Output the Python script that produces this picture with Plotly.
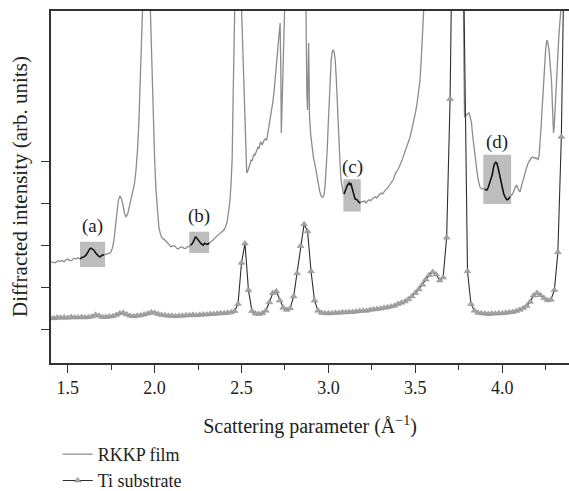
import plotly.graph_objects as go

# RKKP film spectrum: scattering parameter (1/Å) and intensity (arb. units)
rkkp_q = [1.404, 1.427, 1.445, 1.456, 1.468, 1.479, 1.490, 1.502, 1.513, 1.525, 1.536, 1.548, 1.559, 1.571,
          1.582, 1.594, 1.605, 1.617, 1.626, 1.634, 1.643, 1.651, 1.660, 1.669, 1.678, 1.686, 1.698, 1.709,
          1.720, 1.732, 1.741, 1.749, 1.758, 1.766, 1.775, 1.784, 1.792, 1.801, 1.810, 1.818, 1.827, 1.836,
          1.845, 1.853, 1.864, 1.876, 1.885, 1.893, 1.902, 1.910, 1.916, 1.922, 1.930, 1.945, 1.962, 1.972,
          1.979, 1.985, 1.991, 2.000, 2.008, 2.016, 2.025, 2.034, 2.043, 2.060, 2.070, 2.077, 2.086, 2.095,
          2.106, 2.118, 2.126, 2.135, 2.147, 2.158, 2.170, 2.181, 2.190, 2.198, 2.207, 2.216, 2.227, 2.234,
          2.239, 2.247, 2.255, 2.266, 2.279, 2.287, 2.296, 2.305, 2.314, 2.325, 2.337, 2.348, 2.359, 2.370,
          2.382, 2.390, 2.399, 2.408, 2.417, 2.425, 2.434, 2.440, 2.446, 2.452, 2.457, 2.469, 2.486, 2.501,
          2.508, 2.514, 2.522, 2.530, 2.537, 2.543, 2.549, 2.555, 2.561, 2.566, 2.572, 2.578, 2.584, 2.589,
          2.595, 2.601, 2.607, 2.613, 2.618, 2.624, 2.630, 2.637, 2.645, 2.652, 2.659, 2.667, 2.674, 2.681,
          2.688, 2.694, 2.699, 2.705, 2.711, 2.716, 2.722, 2.726, 2.729, 2.733, 2.739, 2.743, 2.747, 2.760,
          2.850, 2.871, 2.876, 2.880, 2.884, 2.886, 2.889, 2.891, 2.898, 2.906, 2.914, 2.923, 2.932, 2.941,
          2.950, 2.958, 2.964, 2.970, 2.976, 2.981, 2.987, 2.993, 2.999, 3.004, 3.010, 3.016, 3.022, 3.027,
          3.033, 3.039, 3.045, 3.050, 3.056, 3.062, 3.068, 3.073, 3.079, 3.085, 3.090, 3.096, 3.102, 3.107,
          3.113, 3.119, 3.124, 3.130, 3.136, 3.142, 3.148, 3.153, 3.159, 3.165, 3.174, 3.182, 3.190, 3.199,
          3.208, 3.216, 3.225, 3.234, 3.242, 3.251, 3.260, 3.269, 3.277, 3.286, 3.295, 3.303, 3.312, 3.320,
          3.329, 3.337, 3.346, 3.355, 3.363, 3.372, 3.380, 3.389, 3.398, 3.406, 3.415, 3.424, 3.432, 3.441,
          3.450, 3.458, 3.467, 3.475, 3.484, 3.493, 3.501, 3.510, 3.518, 3.527, 3.533, 3.539, 3.547, 3.570,
          3.760, 3.777, 3.780, 3.783, 3.790, 3.797, 3.803, 3.809, 3.816, 3.823, 3.830, 3.838, 3.846, 3.855,
          3.863, 3.872, 3.880, 3.889, 3.900, 3.911, 3.918, 3.924, 3.933, 3.942, 3.948, 3.953, 3.961, 3.968,
          3.975, 3.981, 3.990, 3.999, 4.008, 4.016, 4.022, 4.027, 4.036, 4.044, 4.053, 4.062, 4.072, 4.083,
          4.092, 4.102, 4.110, 4.119, 4.130, 4.141, 4.150, 4.160, 4.168, 4.177, 4.186, 4.194, 4.200, 4.206,
          4.212, 4.217, 4.223, 4.229, 4.236, 4.243, 4.250, 4.256, 4.262, 4.269, 4.277, 4.284, 4.290, 4.295,
          4.299, 4.303, 4.309, 4.315, 4.320, 4.326, 4.338, 4.349, 4.384]
rkkp_i = [1.62, 1.60, 1.65, 1.63, 1.66, 1.62, 1.67, 1.69, 1.65, 1.66, 1.71, 1.69, 1.72, 1.69,
          1.73, 1.74, 1.78, 1.86, 1.93, 1.95, 1.92, 1.90, 1.84, 1.79, 1.76, 1.74, 1.78, 1.79,
          1.80, 1.81, 1.83, 1.86, 1.96, 2.14, 2.50, 2.86, 3.10, 3.19, 3.12, 2.98, 2.78, 2.69,
          2.76, 2.90, 3.10, 3.29, 3.50, 3.81, 4.30, 5.00, 5.90, 6.90, 8.20, 9.50, 9.60, 8.20,
          6.90, 6.00, 5.00, 4.10, 3.33, 2.80, 2.43, 2.28, 2.19, 2.14, 2.10, 2.05, 2.03, 1.98,
          2.01, 2.00, 1.95, 1.93, 1.97, 1.98, 1.94, 1.95, 1.99, 1.98, 2.02, 2.05, 2.14, 2.21,
          2.21, 2.16, 2.12, 2.06, 2.02, 2.06, 2.05, 2.04, 2.07, 2.10, 2.14, 2.20, 2.24, 2.29,
          2.33, 2.36, 2.38, 2.46, 2.57, 2.80, 3.10, 3.50, 4.05, 5.60, 7.57, 9.50, 9.50, 7.57,
          6.40, 5.48, 4.50, 3.74, 3.80, 3.86, 3.95, 4.05, 4.02, 4.12, 4.18, 4.17, 4.22, 4.29,
          4.36, 4.32, 4.45, 4.48, 4.40, 4.47, 4.52, 4.55, 4.52, 4.70, 4.88, 5.05, 5.24, 5.45,
          5.71, 6.00, 6.31, 6.52, 6.74, 7.00, 7.31, 6.20, 4.69, 5.30, 6.19, 6.90, 7.57, 9.50,
          9.50, 7.57, 5.60, 5.24, 6.30, 6.83, 6.00, 5.12, 4.65, 4.29, 4.10, 3.93, 3.68, 3.45,
          3.30, 3.19, 3.16, 3.17, 3.25, 3.45, 3.80, 4.29, 4.90, 5.48, 6.00, 6.43, 6.62, 6.67,
          6.62, 6.43, 6.00, 5.48, 4.85, 4.29, 3.85, 3.57, 3.38, 3.26, 3.24, 3.29, 3.37, 3.43,
          3.48, 3.50, 3.46, 3.48, 3.38, 3.26, 3.18, 3.12, 3.11, 3.10, 3.05, 3.02, 3.06, 3.05,
          3.08, 3.02, 3.07, 3.10, 3.08, 3.12, 3.15, 3.17, 3.14, 3.19, 3.23, 3.26, 3.24, 3.29,
          3.34, 3.36, 3.42, 3.48, 3.52, 3.57, 3.66, 3.76, 3.80, 3.86, 3.96, 4.05, 4.14, 4.24,
          4.33, 4.45, 4.56, 4.69, 4.84, 5.00, 5.18, 5.40, 5.64, 5.95, 6.35, 6.79, 7.57, 9.50,
          9.50, 7.57, 6.20, 5.07, 5.10, 5.12, 5.16, 5.17, 5.06, 4.93, 4.62, 4.29, 4.00, 3.76,
          3.55, 3.40, 3.37, 3.36, 3.35, 3.33, 3.38, 3.45, 3.58, 3.69, 3.83, 3.93, 3.99, 3.98,
          3.88, 3.76, 3.55, 3.38, 3.25, 3.17, 3.12, 3.10, 3.12, 3.17, 3.22, 3.26, 3.38, 3.45,
          3.35, 3.29, 3.42, 3.57, 3.72, 3.88, 3.98, 4.05, 4.10, 4.12, 4.09, 4.10, 4.08, 4.05,
          4.15, 4.40, 4.80, 5.24, 5.80, 6.31, 6.70, 6.90, 6.85, 6.67, 6.30, 5.88, 5.20, 4.69,
          4.85, 5.12, 5.60, 6.07, 6.55, 7.02, 7.67, 9.50, 9.50]

# Ti substrate spectrum
ti_q = [1.40, 1.42, 1.44, 1.46, 1.48, 1.50, 1.52, 1.54, 1.56, 1.58, 1.60, 1.62, 1.64, 1.66, 1.68, 1.70,
        1.72, 1.74, 1.76, 1.78, 1.80, 1.82, 1.84, 1.86, 1.88, 1.90, 1.92, 1.94, 1.96, 1.98, 2.00, 2.02,
        2.04, 2.06, 2.08, 2.10, 2.12, 2.14, 2.16, 2.18, 2.20, 2.22, 2.24, 2.26, 2.28, 2.30, 2.32, 2.34,
        2.36, 2.38, 2.40, 2.42, 2.44, 2.46, 2.48, 2.50, 2.52, 2.54, 2.56, 2.58, 2.60, 2.62, 2.64, 2.66,
        2.68, 2.70, 2.72, 2.74, 2.76, 2.78, 2.80, 2.82, 2.84, 2.86, 2.88, 2.90, 2.92, 2.94, 2.96, 2.98,
        3.00, 3.02, 3.04, 3.06, 3.08, 3.10, 3.12, 3.14, 3.16, 3.18, 3.20, 3.22, 3.24, 3.26, 3.28, 3.30,
        3.32, 3.34, 3.36, 3.38, 3.40, 3.42, 3.44, 3.46, 3.48, 3.50, 3.52, 3.54, 3.56, 3.58, 3.60, 3.62,
        3.64, 3.66, 3.68, 3.70, 3.72, 3.74, 3.76, 3.78, 3.80, 3.82, 3.84, 3.86, 3.88, 3.90, 3.92, 3.94,
        3.96, 3.98, 4.00, 4.02, 4.04, 4.06, 4.08, 4.10, 4.12, 4.14, 4.16, 4.18, 4.20, 4.22, 4.24, 4.26,
        4.28, 4.30, 4.32, 4.34, 4.36, 4.38]
ti_i = [0.29, 0.28, 0.30, 0.29, 0.30, 0.29, 0.31, 0.30, 0.30, 0.31, 0.30, 0.31, 0.32, 0.36, 0.34, 0.31,
        0.31, 0.32, 0.33, 0.36, 0.40, 0.41, 0.37, 0.34, 0.33, 0.34, 0.35, 0.37, 0.39, 0.42, 0.41, 0.38,
        0.36, 0.35, 0.34, 0.34, 0.33, 0.34, 0.34, 0.35, 0.35, 0.36, 0.35, 0.36, 0.37, 0.37, 0.38, 0.38,
        0.39, 0.40, 0.40, 0.41, 0.42, 0.45, 0.62, 1.60, 2.06, 0.95, 0.45, 0.39, 0.38, 0.40, 0.46, 0.66,
        0.88, 0.92, 0.70, 0.53, 0.48, 0.52, 0.80, 1.35, 2.00, 2.52, 2.35, 1.40, 0.70, 0.46, 0.41, 0.40,
        0.40, 0.40, 0.41, 0.41, 0.42, 0.42, 0.43, 0.43, 0.44, 0.45, 0.46, 0.46, 0.48, 0.49, 0.50, 0.51,
        0.53, 0.54, 0.56, 0.58, 0.62, 0.65, 0.68, 0.73, 0.80, 0.88, 0.97, 1.08, 1.20, 1.31, 1.38, 1.32,
        1.18, 1.25, 2.20, 5.50, 12.0, 14.0, 12.5, 7.80, 1.40, 0.62, 0.46, 0.41, 0.40, 0.39, 0.38, 0.39,
        0.39, 0.40, 0.40, 0.41, 0.42, 0.43, 0.45, 0.48, 0.52, 0.57, 0.67, 0.82, 0.88, 0.83, 0.76, 0.71,
        0.72, 0.95, 1.85, 4.60, 10.0, 14.0]

# Highlighted regions (a)-(d): q range and intensity range
box_labels = ["(a)", "(b)", "(c)", "(d)"]
box_q0 = [1.571, 2.199, 3.086, 3.891]
box_q1 = [1.715, 2.314, 3.186, 4.051]
box_i0 = [1.50, 1.83, 2.82, 3.00]
box_i1 = [2.10, 2.34, 3.59, 4.17]
label_i = [2.48, 2.71, 3.89, 4.48]

x_ticks = [1.5, 2.0, 2.5, 3.0, 3.5, 4.0]
y_ticks = [0, 1, 2, 3, 4]

SERIF = "Liberation Serif"
AXIS = "#333333"

fig = go.Figure()

fig.add_trace(go.Scatter(
    x=rkkp_q, y=rkkp_i, mode="lines", name="RKKP film",
    line=dict(color="#8c8c8c", width=1.3),
))
fig.add_trace(go.Scatter(
    x=ti_q, y=ti_i, mode="lines+markers", name="Ti substrate",
    line=dict(color="#2e2e2e", width=1.1),
    marker=dict(symbol="triangle-up", size=6, color="#a4a4a4",
                line=dict(width=0.5, color="#8a8a8a")),
))

# shaded insets with the film trace redrawn in black inside them
for lab, q0, q1, i0, i1, li in zip(box_labels, box_q0, box_q1, box_i0, box_i1, label_i):
    fig.add_shape(type="rect", xref="x", yref="y", x0=q0, x1=q1, y0=i0, y1=i1,
                  fillcolor="#bdbdbd", line=dict(width=0), layer="below")
    seg = [(q, v) for q, v in zip(rkkp_q, rkkp_i) if q0 <= q <= q1]
    fig.add_trace(go.Scatter(
        x=[p[0] for p in seg], y=[p[1] for p in seg], mode="lines",
        line=dict(color="#111111", width=1.5), showlegend=False, hoverinfo="skip",
    ))
    fig.add_annotation(x=(q0 + q1) / 2, y=li, text=lab, showarrow=False,
                       font=dict(family=SERIF, size=19, color="#222222"))

# vertical axis title
fig.add_annotation(xref="paper", yref="paper", x=0, y=0.5, xshift=-31,
                   text="Diffracted intensity (arb. units)", textangle=-90,
                   showarrow=False, xanchor="center", yanchor="middle",
                   font=dict(family=SERIF, size=21, color="#222222"))

fig.update_layout(
    width=569, height=491,
    margin=dict(l=51, r=0, t=11, b=128, autoexpand=False),
    plot_bgcolor="white", paper_bgcolor="white",
    font=dict(family=SERIF, size=18, color="#222222"),
    showlegend=True,
    legend=dict(x=0.013, y=-0.207, xanchor="left", yanchor="top",
                font=dict(family=SERIF, size=18, color="#222222"),
                bgcolor="rgba(0,0,0,0)", tracegroupgap=0),
    xaxis=dict(
        range=[1.404, 4.384], tickvals=x_ticks, ticktext=[f"{v:.1f}" for v in x_ticks],
        ticks="outside", ticklen=8, tickwidth=1.2, tickcolor=AXIS,
        minor=dict(dtick=0.25, tick0=1.25, ticks="outside", ticklen=5, tickwidth=1.2, tickcolor=AXIS),
        showline=True, linecolor=AXIS, linewidth=1.5, mirror=True,
        showgrid=False, zeroline=False,
        tickfont=dict(family=SERIF, size=18),
        title=dict(text="Scattering parameter (Å<sup>−1</sup>)", standoff=22,
                   font=dict(family=SERIF, size=20)),
    ),
    yaxis=dict(
        range=[-0.786, 7.595], tickvals=y_ticks, showticklabels=False,
        ticks="outside", ticklen=8, tickwidth=1.2, tickcolor=AXIS,
        showline=True, linecolor=AXIS, linewidth=1.5, mirror=False,
        showgrid=False, zeroline=False,
    ),
)

fig.write_html("out.html")
